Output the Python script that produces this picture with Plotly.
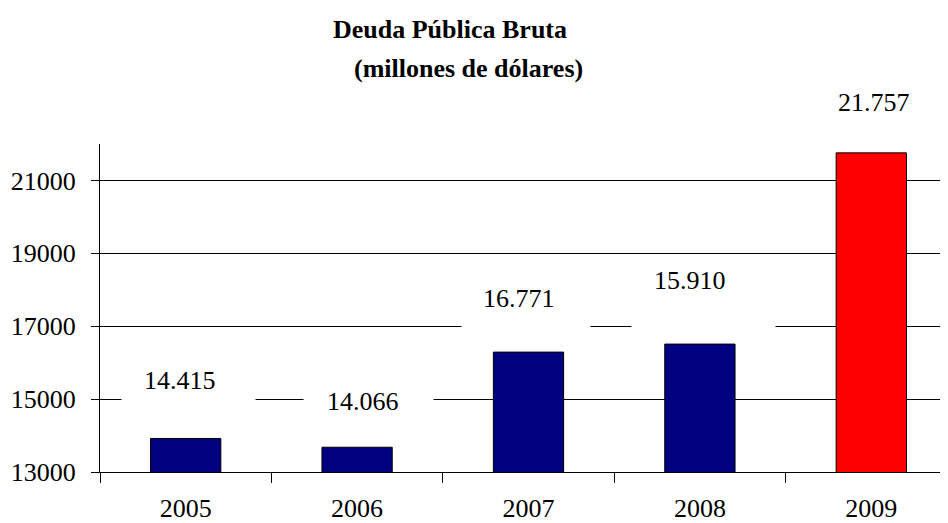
"""
Deuda Publica Bruta
-------------------
Bar chart of gross public debt, 2005-2009.
"""

import plotly.graph_objects as go


# ==============================
# Data
# ==============================

years = ["2005", "2006", "2007", "2008", "2009"]
bar_values = [13920, 13680, 16290, 16510, 21757]
bar_labels = ["14.415", "14.066", "16.771", "15.910", "21.757"]
bar_colors = ["#000080", "#000080", "#000080", "#000080", "#FF0000"]

title_line1 = "Deuda Pública Bruta"
title_line2 = "(millones de dólares)"

y_ticks = [13000, 15000, 17000, 19000, 21000]


# ==============================
# Figure
# ==============================

FONT = "Liberation Serif, Times New Roman, serif"

fig = go.Figure()

fig.add_trace(
    go.Bar(
        x=years,
        y=bar_values,
        width=0.41,
        marker=dict(color=bar_colors, line=dict(color="black", width=1)),
        hoverinfo="x+y",
    )
)

# white boxes behind the labels (hide the gridlines): (x shift, top, width, height) in px
label_boxes = [
    (3, 363, 133, 45),
    (11, 385, 129, 40),
    (-3, 282, 128, 55),
    (4, 264, 143, 70),
]
# label text centres: (x shift, y) in px
label_pos = [(-6, 380), (6, 401), (-10, 298), (-10, 280), (3, 102)]

PLOT_TOP, PLOT_BOTTOM = 144, 472


def paper_y(py):
    return (PLOT_BOTTOM - py) / (PLOT_BOTTOM - PLOT_TOP)


# the page body has an 8px margin, so the figure is drawn 8px in from the corner
for i, (dx, top, w, h) in enumerate(label_boxes):
    fig.add_annotation(
        x=i, y=paper_y(top), yref="paper",
        text=" ", showarrow=False,
        xanchor="center", yanchor="top", xshift=dx,
        width=w, height=h, borderpad=0,
        bgcolor="white",
    )

for i, (text, (dx, py)) in enumerate(zip(bar_labels, label_pos)):
    fig.add_annotation(
        x=i, y=paper_y(py), yref="paper",
        text=text, showarrow=False,
        xanchor="center", yanchor="middle", xshift=dx,
        font=dict(family=FONT, size=26, color="black"),
    )

fig.add_annotation(
    x=0.4127, y=paper_y(30), xref="paper", yref="paper",
    text="<b>" + title_line1 + "</b>", showarrow=False,
    xanchor="center", yanchor="middle",
    font=dict(family=FONT, size=26, color="black"),
)
fig.add_annotation(
    x=0.435, y=paper_y(68), xref="paper", yref="paper",
    text="<b>" + title_line2 + "</b>", showarrow=False,
    xanchor="center", yanchor="middle",
    font=dict(family=FONT, size=26, color="black"),
)

fig.update_layout(
    width=940,
    height=515,
    autosize=False,
    margin=dict(l=92, r=0, t=136, b=51, pad=0),
    paper_bgcolor="white",
    plot_bgcolor="white",
    showlegend=False,
    font=dict(family=FONT, size=26, color="black"),
)

fig.update_xaxes(
    type="category",
    range=[-0.5, 4.4475],
    tickson="boundaries",
    ticks="outside",
    ticklen=10,
    tickcolor="black",
    showline=True,
    linecolor="black",
    linewidth=1,
    showgrid=False,
    ticklabelstandoff=13,
    automargin=False,
    tickfont=dict(family=FONT, size=26, color="black"),
)

fig.update_yaxes(
    range=[13000, 22000],
    tickvals=y_ticks,
    tickformat="d",
    ticks="outside",
    ticklen=8,
    tickcolor="black",
    showline=True,
    linecolor="black",
    linewidth=1,
    showgrid=True,
    gridcolor="black",
    gridwidth=1,
    zeroline=False,
    automargin=False,
    ticklabelstandoff=10,
    tickfont=dict(family=FONT, size=26, color="black"),
)

fig.write_html("out.html")
